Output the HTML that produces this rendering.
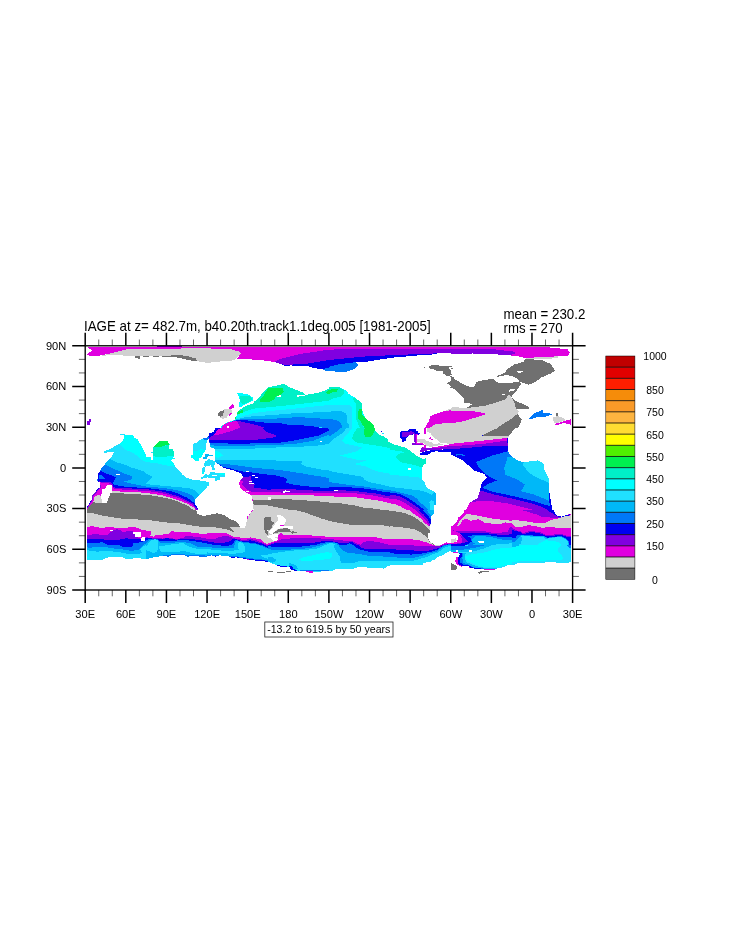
<!DOCTYPE html>
<html><head><meta charset="utf-8"><title>IAGE at z= 482.7m</title>
<style>
html,body{margin:0;padding:0;background:#fff;}
body{width:733px;height:945px;overflow:hidden;position:relative;font-family:"Liberation Sans",sans-serif;}
svg{display:block}
text{font-family:"Liberation Sans",sans-serif;fill:#000}
</style></head><body>
<svg width="733" height="945" viewBox="0 0 733 945">
<rect width="733" height="945" fill="#fff"/>
<svg x="85" y="346" width="122" height="82" viewBox="0 0 733 492.66" preserveAspectRatio="none" shape-rendering="crispEdges">
<polygon fill="#e000e0" points="12,5 733,5 733,14 430,16 250,20 190,36 100,56 30,63 12,50 45,25 20,12"/>
<polygon fill="#d0d0d0" points="190,36 250,20 430,16 733,14 733,102 650,86 560,63 300,63 200,55 100,58"/>
<polygon fill="#707070" points="515,56 565,54 620,62 668,76 672,90 640,88 600,80 560,70 520,64"/>
<polygon fill="#707070" points="300,62 330,62 330,76 305,74"/>
<polygon fill="#707070" points="350,60 382,60 382,66 350,66"/>
<polygon fill="#707070" points="410,60 442,60 442,66 410,66"/>
<polygon fill="#707070" points="465,58 520,58 520,65 465,65"/>
<polygon fill="#8000e0" points="430,0 580,0 580,7 430,7"/>
<polygon fill="#8000e0" points="5,452 25,452 25,440 37,440 37,458 30,458 30,475 5,475"/>
</svg>
<svg x="85" y="428" width="122" height="82" viewBox="0 0 733 492.66" preserveAspectRatio="none" shape-rendering="crispEdges">
<polygon fill="#20e0ff" points="0,493 7,492 25,462 45,427 45,407 65,387 77,370 90,362 92,327 77,317 77,272 92,257 102,235 117,220 135,200 150,185 165,165 170,150 180,145 165,142 115,150 115,140 140,130 165,120 190,102 210,97 222,82 237,60 232,42 210,40 210,36 240,36 245,42 287,42 295,57 317,67 325,87 340,107 350,130 360,150 366,165 366,172 396,175 396,192 409,192 409,150 396,147 409,142 409,117 431,95 449,80 499,80 504,95 516,98 504,102 504,125 531,127 534,165 531,180 546,182 516,192 531,212 546,237 566,257 586,280 611,300 646,310 691,315 733,322 733,357 706,382 686,402 671,417 661,432 659,452 671,472 681,493"/>
<polygon fill="#00ffff" points="210,97 222,82 237,60 232,42 287,42 295,57 317,67 325,87 340,107 350,130 360,150 366,172 396,175 396,192 409,192 409,117 431,95 449,80 499,80 504,95 516,98 504,102 504,125 531,127 534,165 531,180 546,182 516,192 531,212 536,232 491,225 431,212 366,205 340,190 310,165 280,145 250,135 225,115"/>
<polygon fill="#00f0c8" points="409,117 504,102 504,125 531,127 534,165 491,172 431,177 409,167"/>
<polygon fill="#00f050" points="409,117 431,95 449,80 499,80 504,95 516,98 486,102 466,110 431,117"/>
<polygon fill="#00b8f8" points="150,185 170,197 200,210 240,220 270,235 320,250 350,260 366,272 406,292 376,322 366,337 466,347 556,355 626,362 666,377 686,402 671,417 661,432 659,452 671,472 681,493 0,493 77,300 77,272 92,257 102,235 117,220 135,200"/>
<polygon fill="#0078f8" points="117,220 145,230 170,245 210,260 240,275 280,290 287,300 270,312 235,322 270,332 320,342 366,352 416,355 466,360 516,367 566,377 616,392 646,407 661,432 659,452 671,472 681,493 0,493 77,300 77,272 92,257 102,235"/>
<polygon fill="#0000f0" points="77,272 92,257 125,272 185,295 175,317 167,337 180,342 225,351 300,357 366,360 466,372 516,380 566,397 616,420 646,442 659,452 671,472 681,493 0,493 77,317"/>
<polygon fill="#0078f8" points="85,285 100,282 120,305 85,305"/>
<polygon fill="#8000e0" points="77,317 92,322 150,325 167,337 172,357 225,362 300,364 366,367 466,382 566,412 616,437 650,455 659,470 671,480 681,493 0,493 7,488 25,458 45,424 45,404 65,384 77,367 90,360 92,327"/>
<polygon fill="#e000e0" points="92,327 125,330 150,335 165,350 172,365 225,370 300,375 366,377 466,392 566,422 616,445 650,465 660,480 670,493 0,493 12,488 30,458 50,424 50,407 70,387 82,370 95,362"/>
<polygon fill="#d0d0d0" points="55,417 75,402 90,405 95,412 105,452 65,450 50,442"/>
<polygon fill="#d0d0d0" points="160,380 225,382 300,385 366,390 466,405 566,435 616,455 656,480 666,493 150,493 150,392"/>
<polygon fill="#707070" points="7,493 50,445 65,450 105,452 130,450 137,432 147,412 150,392 170,390 300,397 366,402 416,407 466,417 516,427 566,445 616,467 651,493"/>
<polygon fill="#ffffff" points="137,342 160,345 165,387 150,392 147,412 137,432 130,450 105,452 95,412 100,392 102,370 120,365 130,347"/>
<polygon fill="#ffffff" points="187,275 210,275 210,281 187,281"/>
<polygon fill="#ffffff" points="0,482 7,485 25,455 43,424 43,404 63,384 75,367 88,359 90,329 75,319 75,272 90,255 100,235 60,180 0,180"/>
<polygon fill="#20e0ff" points="650,96 672,88 689,73 709,62 733,57 733,90 728,90 724,135 709,151 703,174 689,180 683,196 662,196 650,188 650,176 638,180 638,164 650,162"/>
<polygon fill="#00ffff" points="650,135 672,140 700,125 724,135 709,151 703,174 689,180 683,196 662,196 650,188 650,176 638,180 638,164 650,162"/>
<polygon fill="#0078f8" points="709,63 733,57 733,73 715,72"/>
<polygon fill="#00b8f8" points="709,176 719,172 724,158 733,158 733,188 720,188 709,182"/>
<polygon fill="#20e0ff" points="724,201 733,195 733,228 720,233 711,217"/>
<polygon fill="#20e0ff" points="703,240 720,235 720,262 703,279"/>
<polygon fill="#00ffff" points="703,262 712,262 712,279 703,279"/>
<polygon fill="#20e0ff" points="695,299 724,279 733,279 733,300 695,305"/>
</svg>
<svg x="85" y="510" width="122" height="82" viewBox="0 0 733 492.66" preserveAspectRatio="none" shape-rendering="crispEdges">
<svg x="0.0" y="0.0" width="366.5" height="300.4" viewBox="0 0 733 600.8" preserveAspectRatio="none">
<polygon fill="#707070" points="0,0 733,0 733,601 0,601"/>
<polygon fill="#d0d0d0" points="0,30 100,40 200,65 350,90 450,105 600,110 733,125 733,601 0,601"/>
<polygon fill="#e000e0" points="0,205 90,195 200,215 300,205 400,215 450,215 600,205 680,235 733,245 733,601 0,601"/>
<polygon fill="#8000e0" points="0,300 120,292 270,300 300,275 340,245 380,232 420,240 455,262 520,255 575,258 600,290 640,330 670,345 733,335 733,601 0,601"/>
<polygon fill="#0000f0" points="0,345 120,345 230,355 420,355 500,340 560,350 650,355 700,345 733,338 733,601 0,601"/>
<polygon fill="#0078f8" points="0,395 60,400 130,400 210,385 270,415 400,415 450,440 570,440 580,400 650,390 733,372 733,601 0,601"/>
<polygon fill="#00b8f8" points="0,445 60,455 150,440 200,450 260,440 300,460 400,465 480,480 560,490 650,480 680,440 733,400 733,601 0,601"/>
<polygon fill="#20e0ff" points="0,475 60,490 150,500 250,490 400,505 500,525 600,530 680,520 733,500 733,601 0,601"/>
<polygon fill="#20e0ff" points="660,475 690,440 733,420 733,505 690,520"/>
<polygon fill="#ffffff" points="0,601 200,601 250,575 300,565 450,570 500,590 600,580 733,585 733,601"/>
<polygon fill="#00ffff" points="0,565 50,565 50,580 0,580"/>
<polygon fill="#ffffff" points="300,238 340,238 340,250 300,250"/>
<polygon fill="#ffffff" points="580,265 670,265 670,320 600,320 600,290 580,290"/>
<polygon fill="#ffffff" points="680,330 720,325 720,370 675,370"/>
</svg>
<svg x="366.5" y="0.0" width="366.5" height="300.4" viewBox="0 0 733 600.8" preserveAspectRatio="none">
<polygon fill="#707070" points="0,0 733,0 733,601 0,601"/>
<polygon fill="#ffffff" points="600,0 733,0 733,65 680,70 620,50"/>
<polygon fill="#d0d0d0" points="0,115 100,130 250,150 400,160 550,185 650,200 733,210 733,601 0,601"/>
<polygon fill="#e000e0" points="0,255 55,255 60,290 40,310 90,320 130,295 200,295 270,290 300,255 350,260 400,270 500,265 600,280 733,290 733,601 0,601"/>
<polygon fill="#8000e0" points="0,328 100,338 200,343 250,330 370,350 450,335 480,315 600,320 733,345 733,601 0,601"/>
<polygon fill="#0000f0" points="0,335 100,345 200,350 250,338 370,357 450,345 600,355 733,375 733,601 0,601"/>
<polygon fill="#0078f8" points="0,370 30,350 150,355 170,375 300,375 450,358 600,378 733,402 733,601 0,601"/>
<polygon fill="#00b8f8" points="0,400 40,365 60,360 110,352 150,370 170,395 300,395 400,385 450,385 550,405 620,440 733,445 733,601 0,601"/>
<polygon fill="#20e0ff" points="0,440 30,400 60,362 110,352 150,372 150,440 200,430 280,420 350,405 450,400 500,430 560,455 650,470 733,470 733,601 0,601"/>
<polygon fill="#00b8f8" points="0,480 100,520 130,500 150,445 180,500 250,505 350,510 450,492 520,510 600,525 733,530 733,601 0,601"/>
<polygon fill="#0078f8" points="200,542 300,535 450,528 500,545 600,540 733,548 733,601 200,601"/>
<polygon fill="#ffffff" points="0,590 50,580 100,565 200,555 270,560 300,545 450,535 500,560 600,550 680,570 733,560 733,601 0,601"/>
</svg>
</svg>
<svg x="207" y="346" width="122" height="82" viewBox="0 0 733 492.66" preserveAspectRatio="none" shape-rendering="crispEdges">
<polygon fill="#e000e0" points="0,5 733,5 733,22 560,48 450,75 400,96 350,88 260,80 180,75 205,45 195,35 150,20 0,14"/>
<polygon fill="#d0d0d0" points="0,14 150,20 195,35 205,45 180,72 160,86 50,96 0,102"/>
<polygon fill="#8000e0" points="400,96 450,75 560,48 733,22 733,84 650,98 600,106 470,114 445,108"/>
<polygon fill="#0000f0" points="445,108 470,114 600,106 650,98 733,84 733,150 700,142 640,132 600,119 500,117 470,121"/>
<polygon fill="#0078f8" points="690,138 733,132 733,150 710,148"/>
<polygon fill="#00ffff" points="180,282 210,284 240,289 260,297 277,312 277,327 250,342 220,354 210,364 192,364 197,324 187,294"/>
<polygon fill="#00f0c8" points="200,299 250,299 275,319 250,339 215,349 200,334"/>
<polygon fill="#00f0c8" points="366,247 416,239 461,227 496,247 536,264 576,279 591,292 606,292 666,282 706,269 733,257 733,493 82,493 84,486 100,471 130,456 167,445 177,424 182,400 195,384 215,371 250,354 287,341 280,335 295,326 325,294"/>
<polygon fill="#ffffff" points="541,296 591,292 591,302 541,304"/>
<polygon fill="#ffffff" points="418,294 443,294 443,304 418,304"/>
<polygon fill="#00f050" points="366,254 456,252 461,274 441,297 416,299 401,324 366,339 320,334 315,324 340,299"/>
<polygon fill="#00f050" points="185,392 215,384 215,399 182,412"/>
<polygon fill="#00f050" points="168,428 176,426 175,445 167,445"/>
<polygon fill="#00f050" points="716,279 733,264 733,284 721,294"/>
<polygon fill="#00ffff" points="733,329 551,349 366,369 300,372 260,382 220,397 185,412 177,424 167,445 130,456 100,471 84,486 82,493 733,493"/>
<polygon fill="#20e0ff" points="733,354 551,374 366,392 325,397 275,404 225,419 177,434 170,445 130,462 733,493"/>
<polygon fill="#00b8f8" points="733,397 551,402 366,417 300,419 225,429 172,442 165,448 733,493"/>
<polygon fill="#0078f8" points="733,439 551,427 366,439 300,437 225,439 170,445 160,450 733,493"/>
<polygon fill="#0000f0" points="733,493 691,493 616,479 491,474 441,464 366,462 275,452 225,444 167,448 130,460 100,480 95,493"/>
<polygon fill="#8000e0" points="350,493 325,484 275,469 225,459 190,449 150,453 120,466 95,482 90,493"/>
<polygon fill="#e000e0" points="200,493 192,474 185,454 165,452 125,459 100,474 85,493"/>
<polygon fill="#ffffff" points="120,482 130,482 130,493 120,493"/>
<polygon fill="#d0d0d0" points="100,379 145,377 150,394 145,409 120,419 117,432 95,437 80,434 80,424 95,419"/>
<polygon fill="#707070" points="67,404 80,389 105,387 95,419 80,424 67,417"/>
<polygon fill="#e000e0" points="132,367 150,349 160,354 162,369 150,377 132,377"/>
<polygon fill="#e000e0" points="127,414 145,402 150,409 137,419"/>
</svg>
<svg x="207" y="428" width="122" height="82" viewBox="0 0 733 492.66" preserveAspectRatio="none" shape-rendering="crispEdges">
<polygon fill="#20e0ff" points="50,0 733,0 733,493 285,493 277,482 275,432 265,402 235,387 205,367 192,337 200,312 220,295 210,282 200,270 150,252 100,240 75,222 50,205 50,190 47,150 45,125 22,115 12,80 10,55 20,32 42,22"/>
<polygon fill="#00b8f8" points="10,55 12,80 22,115 50,125 200,127 366,120 451,115 566,112 656,107 706,100 733,95 733,0 50,0 42,22 20,32"/>
<polygon fill="#0078f8" points="12,80 20,100 50,107 200,107 300,105 366,102 451,100 531,95 591,85 641,75 691,55 733,40 733,0 50,0 42,22 20,32 10,55"/>
<polygon fill="#0000f0" points="12,70 15,87 75,92 200,95 300,92 366,90 451,87 516,77 591,62 666,47 716,25 733,15 733,0 50,0 42,22 20,32 10,55"/>
<polygon fill="#0078f8" points="720,0 733,0 733,6"/>
<polygon fill="#8000e0" points="195,0 335,0 360,25 405,40 420,50 385,60 366,62 300,70 200,75 50,72 12,70 15,60 35,45 55,42 90,35 150,17"/>
<polygon fill="#e000e0" points="65,12 80,0 195,0 150,17 90,35 55,42 35,45"/>
<polygon fill="#00ffff" points="50,137 70,142 95,165 70,180 50,175"/>
<polygon fill="#00b8f8" points="50,190 65,192 150,192 250,195 366,190 401,195 516,197 571,200 566,215 591,230 641,240 691,250 733,255 733,493 285,493 277,482 275,432 265,402 235,387 205,367 192,337 200,312 220,295 210,282 200,270 150,252 100,240 75,222 50,205"/>
<polygon fill="#0078f8" points="50,205 75,215 150,220 250,235 366,247 416,250 491,260 566,272 641,285 691,292 733,302 733,493 285,493 277,482 275,432 265,402 235,387 205,367 192,337 200,312 220,295 210,282 200,270 150,252 100,240 75,222"/>
<polygon fill="#0000f0" points="75,222 100,235 150,245 200,260 250,265 366,280 406,282 431,290 476,300 481,317 469,325 501,337 566,347 616,352 666,357 733,360 733,493 285,493 277,482 275,432 265,402 235,387 205,367 192,337 200,312 220,295 210,282 200,270 150,252 100,240"/>
<polygon fill="#8000e0" points="220,295 250,297 260,282 265,312 272,315 270,332 287,337 280,357 366,370 501,367 566,372 626,375 733,380 733,493 285,493 277,482 275,432 265,402 235,387 205,367 192,337 200,312"/>
<polygon fill="#e000e0" points="200,312 220,325 205,337 210,342 235,367 265,382 366,385 516,390 616,392 733,392 733,493 285,493 277,482 275,432 265,402 235,387 205,367 192,337"/>
<polygon fill="#d0d0d0" points="265,402 366,400 516,402 606,405 733,407 733,493 285,493 277,482 275,432"/>
<polygon fill="#707070" points="277,432 366,430 466,427 551,432 666,440 733,447 733,493 506,493 416,475 366,465 285,465 277,450"/>
<polygon fill="#e000e0" points="265,432 275,427 275,442"/>
<polygon fill="#ffffff" points="235,257 252,257 252,263 235,263"/>
<polygon fill="#ffffff" points="272,285 287,285 287,290 272,290"/>
<polygon fill="#ffffff" points="290,293 306,293 306,303 290,303"/>
<polygon fill="#ffffff" points="252,320 272,320 272,325 252,325"/>
<polygon fill="#ffffff" points="252,330 285,330 285,337 252,337"/>
<polygon fill="#ffffff" points="235,377 252,377 252,385 235,385"/>
<polygon fill="#ffffff" points="456,380 470,375 490,377 503,384 480,384 470,388 456,388"/>
<polygon fill="#ffffff" points="366,415 383,415 383,430 366,430"/>
<polygon fill="#ffffff" points="679,77 691,77 691,84 679,84"/>
<polygon fill="#0078f8" points="0,57 11,53 13,65 0,73"/>
<polygon fill="#0000f0" points="8,50 13,32 32,30 14,60"/>
<polygon fill="#00b8f8" points="0,158 9,158 11,164 36,164 36,168 9,170 3,176 0,185"/>
<polygon fill="#20e0ff" points="0,195 11,188 24,192 48,200 48,217 40,225 48,250 32,250 24,225 0,228"/>
<polygon fill="#20e0ff" points="0,283 11,279 23,263 72,271 108,271 108,294 81,296 81,312 48,317 48,300 11,300 0,296"/>
<polygon fill="#00ffff" points="72,271 108,271 108,283 72,283"/>
<polygon fill="#ffffff" points="30,285 60,285 60,290 30,290"/>
<polygon fill="#20e0ff" points="0,325 12,322 12,350 0,352"/>
</svg>
<svg x="207" y="510" width="122" height="82" viewBox="0 0 733 492.66" preserveAspectRatio="none" shape-rendering="crispEdges">
<svg x="0.0" y="0.0" width="366.5" height="360.5" viewBox="0 0 733 721.0" preserveAspectRatio="none">
<polygon fill="#d0d0d0" points="0,0 733,0 733,721 0,721"/>
<polygon fill="#ffffff" points="0,0 560,0 530,30 490,80 480,130 460,210 395,215 385,170 350,135 290,115 210,65 130,40 80,45 0,65"/>
<polygon fill="#707070" points="0,65 80,45 130,40 210,65 290,115 350,135 385,170 395,210 330,200 280,210 330,260 310,270 270,240 200,225 100,210 0,200"/>
<polygon fill="#707070" points="680,110 700,90 733,85 733,300 700,280 680,200"/>
<polygon fill="#ffffff" points="720,240 733,235 733,255"/>
<polygon fill="#ffffff" points="720,315 733,310 733,330"/>
<polygon fill="#e000e0" points="0,280 100,280 230,280 330,325 450,335 520,330 600,345 650,350 700,400 733,410 733,721 0,721"/>
<polygon fill="#8000e0" points="0,345 100,345 150,322 230,312 290,325 330,342 450,360 520,348 600,365 680,400 733,425 733,721 0,721"/>
<polygon fill="#0000f0" points="0,375 100,395 230,390 280,370 320,342 340,350 430,375 520,365 600,385 680,410 733,440 733,721 0,721"/>
<polygon fill="#0078f8" points="0,405 100,420 200,430 300,425 325,385 345,360 450,385 540,395 600,405 680,430 733,455 733,721 0,721"/>
<polygon fill="#00b8f8" points="0,445 100,455 200,460 320,455 335,400 350,370 450,395 540,405 600,415 680,440 733,465 733,721 0,721"/>
<polygon fill="#20e0ff" points="0,470 100,480 200,490 300,490 380,480 370,400 400,385 440,410 455,440 460,500 400,520 300,525 200,520 100,515 0,510"/>
<polygon fill="#20e0ff" points="640,545 733,535 733,585 700,580"/>
<polygon fill="#0078f8" points="0,540 100,545 200,548 300,555 400,560 500,575 600,590 733,600 733,721 0,721"/>
<polygon fill="#0000f0" points="0,548 100,553 200,556 300,565 400,572 480,585 600,600 733,610 733,721 0,721"/>
<polygon fill="#ffffff" points="0,555 60,545 100,560 150,545 250,555 300,575 350,570 470,590 600,610 733,622 733,721 0,721"/>
<polygon fill="#e000e0" points="470,590 600,606 490,604"/>
<polygon fill="#e000e0" points="480,70 492,70 492,105 480,105"/>
<polygon fill="#e000e0" points="505,45 517,45 517,60 505,60"/>
<polygon fill="#e000e0" points="530,10 545,0 550,10 535,25"/>
</svg>
<svg x="366.5" y="0.0" width="366.5" height="300.4" viewBox="0 0 733 600.8" preserveAspectRatio="none">
<polygon fill="#d0d0d0" points="0,0 733,0 733,601 0,601"/>
<polygon fill="#707070" points="320,0 733,0 733,130 650,105 550,70 450,30 380,15"/>
<polygon fill="#707070" points="0,85 35,85 40,130 80,160 50,190 40,230 0,240"/>
<polygon fill="#ffffff" points="110,65 150,60 185,85 215,110 215,140 200,170 190,195 300,195 300,225 260,230 230,215 150,220 110,235 60,275 50,290 20,290 15,255 45,230 60,200 90,160 120,130 115,90"/>
<polygon fill="#e000e0" points="145,180 190,180 190,192 145,192"/>
<polygon fill="#707070" points="110,240 150,225 230,218 260,235 275,260 310,255 345,270 290,285 270,265 170,262 120,270 60,285"/>
<polygon fill="#e000e0" points="0,400 60,385 110,365 120,330 130,285 160,280 180,300 300,300 500,305 660,315 733,325 733,601 0,601"/>
<polygon fill="#ffffff" points="0,310 40,300 60,290 115,290 120,320 80,330 120,350 100,370 50,365 40,340 0,335"/>
<polygon fill="#8000e0" points="0,420 20,410 100,380 180,345 350,340 450,335 600,340 733,350 733,601 0,601"/>
<polygon fill="#0000f0" points="0,430 60,405 100,395 300,395 550,395 620,380 733,372 733,601 0,601"/>
<polygon fill="#0078f8" points="0,445 80,420 100,440 280,440 550,430 640,395 733,385 733,601 0,601"/>
<polygon fill="#00b8f8" points="0,460 100,455 300,455 550,445 600,440 680,405 733,395 733,601 0,601"/>
<polygon fill="#20e0ff" points="0,520 100,505 250,490 400,480 550,470 650,430 733,410 733,601 0,601"/>
<polygon fill="#00ffff" points="350,601 420,545 520,520 650,505 733,500 733,601"/>
</svg>
<svg x="366.5" y="210.3" width="366.5" height="300.4" viewBox="0 0 733 600.8" preserveAspectRatio="none">
<polygon fill="#20e0ff" points="0,0 733,0 733,601 0,601"/>
<polygon fill="#00b8f8" points="0,0 690,0 600,40 550,50 400,60 250,70 0,110"/>
<polygon fill="#0078f8" points="0,0 640,0 560,25 400,50 100,60 0,50"/>
<polygon fill="#0000f0" points="0,0 550,0 400,20 100,25 0,15"/>
<polygon fill="#00ffff" points="360,180 420,150 550,120 650,95 733,85 733,170 600,180 450,195"/>
<polygon fill="#00b8f8" points="0,150 60,150 100,180 60,215 0,195"/>
<polygon fill="#00b8f8" points="250,220 300,225 340,250 360,290 300,300 290,260 250,245"/>
<polygon fill="#0078f8" points="380,295 733,295 733,315 380,315"/>
<polygon fill="#0000f0" points="100,235 160,250 250,262 265,245 290,252 305,290 350,298 350,312 280,305 262,275 160,268 100,248"/>
<polygon fill="#ffffff" points="0,200 60,225 110,245 160,265 260,270 280,300 330,310 450,315 520,325 600,320 733,315 733,601 0,601"/>
<polygon fill="#e000e0" points="460,318 545,318 545,335 500,335"/>
<polygon fill="#707070" points="0,318 60,318 60,330 0,330"/>
<polygon fill="#707070" points="110,325 170,322 270,315 275,328 170,332 110,332"/>
</svg>
</svg>
<svg x="329" y="346" width="122" height="82" viewBox="0 0 733 492.66" preserveAspectRatio="none" shape-rendering="crispEdges">
<polygon fill="#e000e0" points="0,5 733,5 733,17 300,17 100,19 0,22"/>
<polygon fill="#8000e0" points="0,22 100,19 300,17 733,17 733,44 650,44 560,48 400,54 200,64 0,84"/>
<polygon fill="#0000f0" points="0,84 200,64 400,54 560,48 650,44 640,50 560,54 500,60 400,68 300,82 215,96 160,98 60,110 0,125"/>
<polygon fill="#0078f8" points="0,125 60,110 160,97 175,115 150,140 90,158 0,150"/>
<polygon fill="#d0d0d0" points="700,388 733,376 733,493 590,493"/>
<polygon fill="#e000e0" points="575,493 600,450 610,420 680,395 733,385 733,460 640,470 600,493"/>
<polygon fill="#00ffff" points="5,247 65,247 100,267 120,289 160,312 197,344 197,379 210,414 222,434 270,477 270,493 0,493 0,247"/>
<polygon fill="#00f0c8" points="0,247 65,247 90,269 87,292 70,304 30,314 0,327"/>
<polygon fill="#00f050" points="0,264 20,259 52,259 50,274 20,279 0,287"/>
<polygon fill="#00f0c8" points="140,317 160,312 197,344 197,379 180,379 175,404 175,434 190,454 210,493 185,493 165,444 160,404 165,354 150,329"/>
<polygon fill="#00f050" points="180,379 197,379 197,414 222,434 270,477 270,493 215,493 190,454 175,434 175,404"/>
<polygon fill="#20e0ff" points="0,354 122,354 137,369 137,493 0,493"/>
<polygon fill="#00b8f8" points="0,397 20,390 75,392 100,404 107,419 107,454 120,474 122,493 0,493"/>
<polygon fill="#0078f8" points="0,439 40,444 65,457 77,477 75,493 0,493"/>
<svg x="546.7" y="84.1" width="186.2" height="300.4" viewBox="0.0 0.0 454.5 733.0" preserveAspectRatio="none">
<polygon fill="#707070" points="120,105 180,75 260,75 320,95 360,90 455,88 440,105 400,115 440,135 455,165 465,215 440,230 480,255 495,250 500,280 540,285 520,300 580,310 620,345 680,380 733,400 733,625 660,625 640,560 590,520 560,470 500,470 470,420 440,410 455,390 410,350 380,355 420,325 470,300 470,265 430,240 380,225 340,195 330,165 240,155 200,135 150,125"/>
<polygon fill="#707070" points="58,100 72,100 72,115 58,115"/>
</svg>
</svg>
<svg x="329" y="428" width="122" height="82" viewBox="0 0 733 492.66" preserveAspectRatio="none" shape-rendering="crispEdges">
<svg x="0.0" y="0.0" width="366.5" height="300.4" viewBox="0 0 733 600.8" preserveAspectRatio="none">
<polygon fill="#20e0ff" points="0,0 733,0 733,601 0,601"/>
<polygon fill="#00b8f8" points="140,0 215,0 150,70 60,130 0,190 0,0"/>
<polygon fill="#0078f8" points="0,0 140,0 70,60 0,105"/>
<polygon fill="#00ffff" points="275,0 240,50 190,110 155,150 200,190 330,215 395,235 340,280 220,310 130,330 200,350 330,380 470,395 400,420 300,435 350,460 450,480 520,520 650,550 733,560 733,0"/>
<polygon fill="#00f0c8" points="340,0 300,60 275,130 320,170 450,195 600,215 733,240 733,0"/>
<polygon fill="#00f050" points="430,0 550,0 550,30 520,90 480,115 430,100 420,50"/>
<polygon fill="#ffffff" points="550,0 560,40 600,80 660,100 700,130 715,165 733,170 733,0"/>
<polygon fill="#00b8f8" points="0,515 100,540 250,560 350,575 420,601 0,601"/>
<polygon fill="#0000f0" points="625,35 640,35 640,48 625,48"/>
<polygon fill="#20e0ff" points="640,60 660,60 660,70 640,70"/>
</svg>
<svg x="366.5" y="0.0" width="366.5" height="300.4" viewBox="0 0 733 600.8" preserveAspectRatio="none">
<polygon fill="#00ffff" points="0,175 50,200 110,215 180,235 240,270 290,310 330,340 370,360 395,370 430,365 430,420 400,450 385,480 385,601 0,601"/>
<polygon fill="#00f0c8" points="0,175 50,200 110,215 180,235 240,270 290,310 330,340 370,360 395,370 430,365 430,420 400,450 385,480 300,450 200,420 100,380 65,345 110,310 180,290 120,275 0,265"/>
<polygon fill="#20e0ff" points="0,545 150,580 250,601 0,601"/>
<polygon fill="#ffffff" points="215,480 250,480 250,500 215,500"/>
<polygon fill="#0000f0" points="120,50 150,35 220,30 240,12 310,12 315,35 335,40 340,60 385,75 330,80 300,75 240,85 190,125 185,160 145,165 145,130 120,125"/>
<polygon fill="#8000e0" points="150,50 230,45 250,35 290,50 300,75 240,80 190,110 150,105"/>
<polygon fill="#d0d0d0" points="440,0 733,0 733,190 600,180 580,150 545,130 500,80 480,55 440,50"/>
<polygon fill="#d0d0d0" points="330,130 420,135 440,160 500,165 520,190 600,185 650,195 560,215 500,225 430,220 410,180 330,170"/>
<polygon fill="#8000e0" points="290,75 310,75 320,180 400,185 405,200 290,210 265,205 270,185 295,180"/>
<polygon fill="#e000e0" points="310,75 430,75 430,0 410,0 410,65 320,80 320,180 400,185 410,210 430,210 430,240 500,235 560,225 650,210 733,195 733,215 650,230 560,245 490,255 430,265 400,250 405,200 330,195 310,190"/>
<polygon fill="#e000e0" points="460,120 490,110 500,130 525,135 510,150 490,135 465,130"/>
<polygon fill="#8000e0" points="385,230 430,242 500,242 600,235 733,215 733,250 600,260 500,262 440,270 400,285 370,295 360,280"/>
<polygon fill="#0000f0" points="350,295 370,300 440,275 500,268 600,262 733,250 733,285 660,290 600,295 570,280 500,285 490,300 450,320 360,320"/>
</svg>
<svg x="0.0" y="192.3" width="366.5" height="300.4" viewBox="0 0 733 600.8" preserveAspectRatio="none">
<polygon fill="#20e0ff" points="0,0 733,0 733,601 0,601"/>
<polygon fill="#00ffff" points="300,50 470,0 733,0 733,165 600,140 500,110 450,80"/>
<polygon fill="#00b8f8" points="0,130 100,150 250,175 400,200 430,240 500,270 600,290 733,320 733,601 0,601"/>
<polygon fill="#0078f8" points="0,265 100,280 250,300 400,315 550,340 650,355 733,365 733,601 0,601"/>
<polygon fill="#0000f0" points="0,320 100,325 250,328 400,340 550,360 650,380 733,390 733,601 0,601"/>
<polygon fill="#8000e0" points="0,375 100,365 300,368 400,385 550,400 650,420 733,440 733,601 0,601"/>
<polygon fill="#e000e0" points="0,400 100,395 300,398 400,410 550,430 650,450 733,465 733,601 0,601"/>
<polygon fill="#d0d0d0" points="0,430 100,445 300,445 400,460 550,480 650,500 733,520 733,601 0,601"/>
<polygon fill="#707070" points="0,515 140,520 300,545 400,570 550,585 660,601 0,601"/>
<polygon fill="#ffffff" points="60,360 110,360 110,372 60,372"/>
</svg>
<svg x="366.5" y="192.3" width="366.5" height="300.4" viewBox="0 0 733 600.8" preserveAspectRatio="none">
<polygon fill="#00ffff" points="0,0 733,0 733,601 0,601"/>
<polygon fill="#00f0c8" points="100,0 430,0 430,40 400,60 385,90 300,60 200,40 120,25"/>
<polygon fill="#20e0ff" points="0,175 100,185 250,200 340,205 385,230 733,230 733,601 0,601"/>
<polygon fill="#00b8f8" points="0,325 100,335 250,352 350,365 430,385 480,410 500,420 530,395 530,375 733,375 733,601 0,601"/>
<polygon fill="#0078f8" points="0,365 80,380 200,410 280,430 330,470 350,500 400,540 440,580 460,601 0,601"/>
<polygon fill="#0000f0" points="0,395 80,400 150,420 220,460 280,500 350,550 400,590 420,601 0,601"/>
<polygon fill="#8000e0" points="0,425 50,420 130,440 200,480 260,520 330,570 370,601 0,601"/>
<polygon fill="#e000e0" points="0,470 60,465 130,490 200,530 270,575 310,601 0,601"/>
<polygon fill="#d0d0d0" points="0,520 60,530 130,560 200,601 0,601"/>
<polygon fill="#20e0ff" points="470,510 500,480 525,500 525,601 480,601 485,550"/>
<polygon fill="#ffffff" points="430,0 430,40 400,60 385,90 385,230 400,250 420,270 430,320 480,355 530,375 550,400 550,540 530,545 530,601 733,601 733,0"/>
<polygon fill="#ffffff" points="215,95 250,95 250,120 215,120"/>
</svg>
</svg>
<svg x="329" y="510" width="122" height="82" viewBox="0 0 733 492.66" preserveAspectRatio="none" shape-rendering="crispEdges">
<svg x="0.0" y="0.0" width="366.5" height="300.4" viewBox="0 0 733 600.8" preserveAspectRatio="none">
<polygon fill="#707070" points="0,0 733,0 733,601 0,601"/>
<polygon fill="#d0d0d0" points="0,130 100,150 250,175 400,185 550,180 650,185 733,200 733,601 0,601"/>
<polygon fill="#d0d0d0" points="710,0 733,0 733,10"/>
<polygon fill="#e000e0" points="0,325 150,330 250,325 400,325 550,325 650,345 733,350 733,601 0,601"/>
<polygon fill="#8000e0" points="0,345 60,355 150,365 200,370 280,375 330,400 380,420 420,380 500,375 600,385 680,410 733,420 733,601 0,601"/>
<polygon fill="#0000f0" points="0,370 100,390 200,395 280,385 330,420 380,445 430,462 550,467 733,467 733,601 0,601"/>
<polygon fill="#0078f8" points="0,390 50,385 100,400 130,420 200,420 240,400 290,420 320,460 400,490 520,510 733,512 733,601 0,601"/>
<polygon fill="#00b8f8" points="0,392 100,402 100,420 130,450 200,500 280,520 380,550 500,562 733,562 733,601 0,601"/>
<polygon fill="#20e0ff" points="0,395 30,395 70,410 90,440 60,470 100,510 130,560 150,601 0,601"/>
<polygon fill="#00ffff" points="0,520 30,525 40,560 20,580 0,585"/>
</svg>
<svg x="366.5" y="0.0" width="366.5" height="300.4" viewBox="0 0 733 600.8" preserveAspectRatio="none">
<polygon fill="#d0d0d0" points="0,0 733,0 733,601 0,601"/>
<polygon fill="#707070" points="0,12 100,20 200,45 300,90 380,150 440,210 480,240 478,270 455,285 455,345 420,310 370,270 300,235 200,215 100,205 0,195"/>
<polygon fill="#e000e0" points="230,0 300,0 350,40 410,100 450,150 480,195 470,195 420,160 380,110 290,50"/>
<polygon fill="#8000e0" points="300,0 340,0 400,50 450,110 480,160 480,195 450,150 410,100 350,40"/>
<polygon fill="#0000f0" points="340,0 390,0 440,50 490,110 490,165 480,160 450,110 400,50"/>
<polygon fill="#0078f8" points="390,0 440,0 470,40 495,75 490,110 440,50"/>
<polygon fill="#00b8f8" points="440,0 525,0 525,50 495,75 470,40"/>
<polygon fill="#e000e0" points="0,345 100,345 250,350 350,365 440,390 500,415 550,430 600,430 640,405 680,385 700,400 733,395 733,601 0,601"/>
<polygon fill="#8000e0" points="0,420 100,420 200,425 270,435 350,435 450,440 520,445 580,440 620,425 660,412 733,402 733,601 0,601"/>
<polygon fill="#0000f0" points="0,470 100,475 200,490 300,495 400,495 500,490 560,475 600,450 640,422 733,405 733,601 0,601"/>
<polygon fill="#0078f8" points="0,510 100,520 200,535 300,540 400,535 500,520 570,495 610,460 660,422 733,408 733,601 0,601"/>
<polygon fill="#00b8f8" points="0,555 100,570 200,580 300,580 400,570 480,550 560,525 600,495 640,460 690,425 733,415 733,601 0,601"/>
<polygon fill="#20e0ff" points="320,601 400,590 500,570 560,545 620,500 660,465 733,430 733,601"/>
<polygon fill="#00ffff" points="620,601 680,540 733,500 733,601"/>
<polygon fill="#ffffff" points="525,0 733,0 733,395 700,400 680,385 640,405 600,430 550,430 520,410 480,375 455,345 455,285 478,270 480,240 480,195 490,165 490,110 495,75 525,50"/>
<polygon fill="#707070" points="455,345 480,375 520,410 550,425 545,430 515,415 475,380 450,350"/>
</svg>
<svg x="0.0" y="210.3" width="366.5" height="300.4" viewBox="0 0 733 600.8" preserveAspectRatio="none">
<polygon fill="#20e0ff" points="0,0 733,0 733,601 0,601"/>
<polygon fill="#00b8f8" points="60,0 733,0 733,195 500,190 360,195 300,215 140,215 135,150 100,95 70,50"/>
<polygon fill="#0078f8" points="110,0 733,0 733,140 500,135 380,110 300,100 210,90 150,50"/>
<polygon fill="#0000f0" points="300,0 733,0 733,90 520,90 440,70 370,55 320,30"/>
<polygon fill="#8000e0" points="350,0 733,0 733,45 430,45 390,30"/>
<polygon fill="#00ffff" points="0,95 35,100 35,140 0,170"/>
<polygon fill="#ffffff" points="0,310 40,310 80,290 300,285 350,265 450,265 460,275 640,275 660,285 700,255 733,250 733,601 0,601"/>
</svg>
<svg x="366.5" y="210.3" width="366.5" height="300.4" viewBox="0 0 733 600.8" preserveAspectRatio="none">
<polygon fill="#20e0ff" points="0,0 733,0 733,601 0,601"/>
<polygon fill="#00b8f8" points="0,0 733,0 733,10 700,15 660,30 620,55 580,90 520,110 450,140 350,170 280,190 100,195 0,190"/>
<polygon fill="#0078f8" points="0,0 680,0 640,20 600,50 560,80 480,100 400,125 300,150 200,155 80,150 0,145"/>
<polygon fill="#0000f0" points="0,0 650,0 610,25 580,55 520,75 450,90 350,110 250,115 100,105 0,100"/>
<polygon fill="#8000e0" points="0,0 640,0 600,30 560,45 450,70 320,70 200,55 80,55 0,45"/>
<polygon fill="#e000e0" points="270,0 620,0 600,10 540,15 430,15 300,10"/>
<polygon fill="#d0d0d0" points="545,0 600,0 600,10 545,10"/>
<polygon fill="#ffffff" points="0,240 180,245 200,240 390,240 400,220 430,210 490,200 500,185 550,170 570,145 600,135 650,115 660,95 700,85 733,65 733,601 0,601"/>
</svg>
</svg>
<svg x="451" y="346" width="122" height="82" viewBox="0 0 733 492.66" preserveAspectRatio="none" shape-rendering="crispEdges">
<polygon fill="#e000e0" points="0,5 560,5 700,20 715,40 700,60 640,62 440,72 400,60 330,55 390,40 250,20 0,18"/>
<polygon fill="#8000e0" points="0,17 250,19 390,35 380,50 330,55 240,48 130,45 0,48"/>
<polygon fill="#d0d0d0" points="440,72 640,62 650,68 600,76 470,82"/>
<svg x="0.0" y="24.0" width="492.7" height="468.6" viewBox="0 0 733 697.2" preserveAspectRatio="none">
<polygon fill="#707070" points="0,240 50,270 100,300 150,325 205,330 230,285 300,265 380,262 410,290 490,295 560,290 610,285 630,300 610,330 580,370 560,395 545,400 540,425 570,450 600,465 650,485 695,510 695,525 580,525 570,480 555,450 530,410 510,400 490,440 400,470 300,500 200,510 130,522 185,490 185,480 120,470 115,430 60,380 30,350 0,335"/>
<polygon fill="#ffffff" points="525,350 575,348 560,365 520,372"/>
<polygon fill="#ffffff" points="455,393 485,393 485,403 455,403"/>
<polygon fill="#d0d0d0" points="0,525 10,512 70,512 75,522 130,522 200,510 300,500 400,470 490,440 510,400 530,410 555,450 570,480 580,525 605,545 600,565 560,600 500,640 410,697 0,697"/>
<polygon fill="#e000e0" points="0,545 185,545 305,565 300,580 200,610 100,640 0,655"/>
<polygon fill="#707070" points="600,565 610,600 635,620 600,697 410,697 500,640 560,600"/>
</svg>
<polygon fill="#707070" points="276,179 302,170 326,158 336,140 376,113 437,93 447,80 540,82 600,108 612,128 625,150 600,165 540,190 510,215 480,228 465,232 430,222 410,213 400,197 376,184 336,175 302,180 279,185"/>
<polygon fill="#ffffff" points="395,150 432,148 428,158 402,162"/>
<polygon fill="#0078f8" points="470,435 500,405 550,385 555,400 580,400 610,410 570,425 520,425 480,440"/>
<polygon fill="#d0d0d0" points="610,430 640,420 680,435 690,445 650,460 620,462"/>
<polygon fill="#707070" points="630,405 645,405 645,420 630,420"/>
<polygon fill="#e000e0" points="620,470 700,445 725,440 725,475 680,462 640,475"/>
<svg x="0.0" y="84.1" width="114.2" height="300.4" viewBox="454.5 0.0 278.5 733.0" preserveAspectRatio="none">
<polygon fill="#707070" points="440,88 455,88 470,88 460,100 455,110 468,118 485,118 485,132 468,132 455,130"/>
<polygon fill="#707070" points="450,165 465,215 455,235 480,255 495,250 500,280 520,300 470,300 450,300"/>
</svg>
</svg>
<svg x="451" y="428" width="122" height="82" viewBox="0 0 733 492.66" preserveAspectRatio="none" shape-rendering="crispEdges">
<polygon fill="#0000f0" points="0,0 385,0 350,40 340,60 345,110 340,140 370,175 410,200 440,205 520,195 555,210 560,250 590,310 590,380 600,440 610,493 90,493 110,450 160,420 175,370 185,330 215,300 200,275 140,255 100,220 70,195 30,175 0,160"/>
<polygon fill="#d0d0d0" points="0,0 280,0 185,45 350,50 340,60 200,75 0,95"/>
<polygon fill="#707070" points="185,45 280,0 385,0 350,47"/>
<polygon fill="#e000e0" points="0,95 200,75 335,60 335,75 200,95 0,110"/>
<polygon fill="#8000e0" points="0,110 200,95 335,75 345,110 200,110 100,120 0,127"/>
<polygon fill="#0078f8" points="150,205 250,165 340,140 370,175 320,240 325,280 400,310 445,340 420,380 500,400 560,425 590,440 595,470 560,460 500,440 400,415 250,383 190,360 215,340 275,315 210,280 170,240"/>
<polygon fill="#00b8f8" points="340,175 370,175 410,200 440,205 430,220 470,270 520,300 590,330 590,440 560,425 500,400 420,380 445,340 400,310 325,280 320,240"/>
<polygon fill="#20e0ff" points="440,205 520,195 555,210 560,250 590,310 590,330 520,300 470,270 430,220"/>
<polygon fill="#0078f8" points="30,158 60,155 85,165 85,172 60,163 30,166"/>
<polygon fill="#8000e0" points="175,375 250,397 400,432 500,457 560,480 580,493 90,493 110,450 160,420"/>
<polygon fill="#e000e0" points="110,450 160,440 250,440 350,455 450,480 500,493 90,493"/>
</svg>
<svg x="451" y="510" width="122" height="82" viewBox="0 0 733 492.66" preserveAspectRatio="none" shape-rendering="crispEdges">
<svg x="0.0" y="0.0" width="366.5" height="300.4" viewBox="0 0 733 600.8" preserveAspectRatio="none">
<polygon fill="#e000e0" points="0,0 733,0 733,601 0,601"/>
<polygon fill="#ffffff" points="0,0 160,0 150,40 90,90 70,140 30,180 0,200"/>
<polygon fill="#d0d0d0" points="180,50 220,50 330,70 480,100 640,120 733,130 733,155 650,150 580,175 470,160 400,150 330,110 230,130 180,105 140,120 110,180 75,200 80,170 120,110"/>
<polygon fill="#8000e0" points="20,245 80,250 200,255 400,255 480,270 560,280 680,260 710,210 733,205 733,601 0,601 0,245"/>
<polygon fill="#0000f0" points="100,275 400,275 480,285 560,295 640,300 733,290 733,601 0,601 0,415 150,400 200,380 170,340 130,310"/>
<polygon fill="#0078f8" points="180,310 280,305 440,300 500,310 560,320 640,330 733,330 733,601 0,601 0,430 180,420 215,400 250,380 230,330"/>
<polygon fill="#00b8f8" points="300,310 440,320 500,330 560,345 640,360 733,365 733,601 0,601 0,450 150,440 250,420 300,400 250,385 260,340"/>
<polygon fill="#20e0ff" points="400,440 480,420 600,410 733,400 733,601 120,601 130,540 120,490 200,480 300,470"/>
<polygon fill="#00ffff" points="170,560 250,525 350,510 420,480 500,450 600,440 733,430 733,601 150,601"/>
<polygon fill="#e000e0" points="0,245 20,245 100,275 130,310 130,390 90,400 30,410 0,415"/>
<polygon fill="#8000e0" points="110,300 130,310 170,340 200,380 150,400 130,395 130,340"/>
<polygon fill="#ffffff" points="0,300 70,300 90,340 70,380 0,400"/>
<polygon fill="#d0d0d0" points="0,350 60,340 70,370 30,395 0,400"/>
<polygon fill="#0000f0" points="100,505 130,515 130,560 115,580 115,601 90,601 95,560 110,540"/>
<polygon fill="#e000e0" points="0,495 100,505 110,540 95,560 90,601 0,601"/>
<polygon fill="#ffffff" points="0,503 100,512 105,540 90,560 85,601 0,601"/>
<polygon fill="#ffffff" points="325,375 395,375 395,395 340,395"/>
<polygon fill="#ffffff" points="60,483 85,483 85,500 60,500"/>
<polygon fill="#ffffff" points="215,480 250,480 250,500 215,500"/>
</svg>
<svg x="366.5" y="0.0" width="366.5" height="300.4" viewBox="0 0 733 600.8" preserveAspectRatio="none">
<polygon fill="#e000e0" points="0,0 733,0 733,601 0,601"/>
<polygon fill="#8000e0" points="110,0 420,0 470,30 520,60 560,85 600,85 560,100 500,100 440,85 350,80 300,55 200,25"/>
<polygon fill="#0000f0" points="420,0 500,0 520,40 550,70 600,80 640,65 700,50 700,62 640,75 600,85 560,85 520,60 470,30"/>
<polygon fill="#ffffff" points="500,0 733,0 733,40 690,45 640,65 600,80 550,70 520,40"/>
<polygon fill="#d0d0d0" points="0,120 130,130 240,150 400,155 470,120 560,100 640,75 733,60 733,210 590,215 420,205 370,215 280,195 200,180 130,200 40,200 0,165"/>
<polygon fill="#8000e0" points="0,215 40,240 100,255 130,280 180,265 220,250 330,265 380,285 420,305 540,290 600,290 660,310 733,320 733,601 0,601"/>
<polygon fill="#0000f0" points="0,240 40,250 100,268 130,292 180,278 220,262 330,278 380,298 420,318 540,303 600,303 660,323 733,333 733,601 0,601"/>
<polygon fill="#0078f8" points="0,335 50,330 60,295 130,300 380,313 420,333 540,318 600,318 650,340 680,370 690,420 733,420 733,601 0,601"/>
<polygon fill="#00b8f8" points="0,380 40,380 60,350 90,320 110,305 380,318 420,340 540,323 600,323 645,345 675,375 685,425 733,425 733,601 0,601"/>
<polygon fill="#20e0ff" points="110,310 230,320 380,330 400,345 420,345 540,328 600,328 640,350 670,380 680,430 733,430 733,601 0,601 0,440 60,430 110,400 120,340"/>
<polygon fill="#00ffff" points="0,470 60,460 230,445 300,420 350,390 400,365 500,370 560,390 600,420 620,460 560,480 580,520 640,560 709,570 733,570 733,601 0,601"/>
<polygon fill="#0000f0" points="680,370 709,340 733,340 733,420 690,420"/>
</svg>
<svg x="0.0" y="210.3" width="366.5" height="300.4" viewBox="0 0 733 600.8" preserveAspectRatio="none">
<polygon fill="#20e0ff" points="0,0 733,0 733,601 0,601"/>
<polygon fill="#00b8f8" points="0,60 150,55 300,30 420,0 500,0 400,40 300,70 200,90 100,88 0,80"/>
<polygon fill="#0078f8" points="0,15 170,10 250,0 420,0 300,30 150,55 0,60"/>
<polygon fill="#0000f0" points="0,0 170,0 170,10 0,15"/>
<polygon fill="#00ffff" points="160,140 250,110 400,90 500,60 600,40 733,35 733,230 680,240 620,255 560,270 400,265 330,250 280,230 200,190"/>
<polygon fill="#00b8f8" points="130,100 175,100 165,160 185,205 250,235 330,262 400,272 560,275 560,290 390,290 330,285 260,275 210,245 150,240 110,210 110,160 130,140"/>
<polygon fill="#0078f8" points="115,100 145,100 135,160 150,215 220,240 270,268 330,278 400,283 540,285 530,295 390,290 330,285 260,275 210,245 150,240 110,210 110,160 130,140"/>
<polygon fill="#0000f0" points="100,95 130,100 130,140 110,160 110,210 150,235 210,240 260,270 330,280 390,285 390,290 320,290 240,285 200,255 130,250 95,235 80,200 90,140 105,120"/>
<polygon fill="#ffffff" points="0,85 100,95 105,120 90,140 80,200 95,235 130,250 200,250 240,280 320,285 390,290 530,295 560,280 620,270 680,245 733,235 733,601 0,601"/>
<polygon fill="#e000e0" points="0,78 60,83 100,93 100,98 0,88"/>
<polygon fill="#e000e0" points="88,140 60,150 50,200 70,230 100,250 130,260 130,250 95,235 80,200 90,140"/>
<polygon fill="#e000e0" points="210,255 240,280 250,285 225,275"/>
<polygon fill="#e000e0" points="390,288 530,290 525,300 400,300"/>
<polygon fill="#707070" points="0,220 30,225 60,250 80,265 60,295 0,295"/>
<polygon fill="#707070" points="330,325 360,315 455,310 455,320 370,330 350,345 325,340"/>
<polygon fill="#ffffff" points="60,62 85,62 85,82 60,82"/>
<polygon fill="#ffffff" points="215,60 250,60 250,82 215,82"/>
</svg>
<svg x="366.5" y="210.3" width="366.5" height="300.4" viewBox="0 0 733 600.8" preserveAspectRatio="none">
<polygon fill="#00ffff" points="0,0 733,0 733,601 0,601"/>
<polygon fill="#00b8f8" points="0,0 100,0 40,20 0,25"/>
<polygon fill="#20e0ff" points="0,205 100,195 300,195 420,185 550,185 620,170 600,130 560,90 550,40 600,0 733,0 733,601 0,601"/>
<polygon fill="#0078f8" points="650,0 709,0 709,40 680,30"/>
<polygon fill="#ffffff" points="0,240 40,235 70,215 390,215 400,205 520,205 540,215 700,210 709,200 733,200 733,601 0,601"/>
</svg>
</svg>
<rect x="571" y="340" width="3" height="260" fill="#fff"/><rect x="84" y="340" width="3" height="260" fill="#fff"/>
<path d="M0 0H733V945H0Z M85.2 345.8V590.0H572.6V345.8Z" fill="#fff" fill-rule="evenodd"/>
<rect x="85.2" y="345.8" width="487.40000000000003" height="244.2" fill="none" stroke="#000" stroke-width="1.35"/>
<path d="M85.20 345.8v-13 M85.20 590.0v13 M125.82 345.8v-13 M125.82 590.0v13 M166.43 345.8v-13 M166.43 590.0v13 M207.05 345.8v-13 M207.05 590.0v13 M247.67 345.8v-13 M247.67 590.0v13 M288.28 345.8v-13 M288.28 590.0v13 M328.90 345.8v-13 M328.90 590.0v13 M369.52 345.8v-13 M369.52 590.0v13 M410.13 345.8v-13 M410.13 590.0v13 M450.75 345.8v-13 M450.75 590.0v13 M491.37 345.8v-13 M491.37 590.0v13 M531.98 345.8v-13 M531.98 590.0v13 M572.60 345.8v-13 M572.60 590.0v13 M85.2 345.80h-13 M572.6 345.80h13 M85.2 386.50h-13 M572.6 386.50h13 M85.2 427.20h-13 M572.6 427.20h13 M85.2 467.90h-13 M572.6 467.90h13 M85.2 508.60h-13 M572.6 508.60h13 M85.2 549.30h-13 M572.6 549.30h13 M85.2 590.00h-13 M572.6 590.00h13" stroke="#000" stroke-width="1.5" fill="none"/>
<path d="M98.74 345.8v-6.3 M98.74 590.0v6.3 M112.28 345.8v-6.3 M112.28 590.0v6.3 M139.36 345.8v-6.3 M139.36 590.0v6.3 M152.89 345.8v-6.3 M152.89 590.0v6.3 M179.97 345.8v-6.3 M179.97 590.0v6.3 M193.51 345.8v-6.3 M193.51 590.0v6.3 M220.59 345.8v-6.3 M220.59 590.0v6.3 M234.13 345.8v-6.3 M234.13 590.0v6.3 M261.21 345.8v-6.3 M261.21 590.0v6.3 M274.74 345.8v-6.3 M274.74 590.0v6.3 M301.82 345.8v-6.3 M301.82 590.0v6.3 M315.36 345.8v-6.3 M315.36 590.0v6.3 M342.44 345.8v-6.3 M342.44 590.0v6.3 M355.98 345.8v-6.3 M355.98 590.0v6.3 M383.06 345.8v-6.3 M383.06 590.0v6.3 M396.59 345.8v-6.3 M396.59 590.0v6.3 M423.67 345.8v-6.3 M423.67 590.0v6.3 M437.21 345.8v-6.3 M437.21 590.0v6.3 M464.29 345.8v-6.3 M464.29 590.0v6.3 M477.83 345.8v-6.3 M477.83 590.0v6.3 M504.91 345.8v-6.3 M504.91 590.0v6.3 M518.44 345.8v-6.3 M518.44 590.0v6.3 M545.52 345.8v-6.3 M545.52 590.0v6.3 M559.06 345.8v-6.3 M559.06 590.0v6.3 M85.2 359.37h-6.3 M572.6 359.37h6.3 M85.2 372.93h-6.3 M572.6 372.93h6.3 M85.2 400.07h-6.3 M572.6 400.07h6.3 M85.2 413.63h-6.3 M572.6 413.63h6.3 M85.2 440.77h-6.3 M572.6 440.77h6.3 M85.2 454.33h-6.3 M572.6 454.33h6.3 M85.2 481.47h-6.3 M572.6 481.47h6.3 M85.2 495.03h-6.3 M572.6 495.03h6.3 M85.2 522.17h-6.3 M572.6 522.17h6.3 M85.2 535.73h-6.3 M572.6 535.73h6.3 M85.2 562.87h-6.3 M572.6 562.87h6.3 M85.2 576.43h-6.3 M572.6 576.43h6.3" stroke="#000" stroke-width="0.6" fill="none"/>
<g font-size="10.5px">
<text transform="translate(66.3 349.6) scale(1.06 1)" text-anchor="end">90N</text>
<text transform="translate(66.3 390.3) scale(1.06 1)" text-anchor="end">60N</text>
<text transform="translate(66.3 431.0) scale(1.06 1)" text-anchor="end">30N</text>
<text transform="translate(66.3 471.7) scale(1.06 1)" text-anchor="end">0</text>
<text transform="translate(66.3 512.4) scale(1.06 1)" text-anchor="end">30S</text>
<text transform="translate(66.3 553.1) scale(1.06 1)" text-anchor="end">60S</text>
<text transform="translate(66.3 593.8) scale(1.06 1)" text-anchor="end">90S</text>
<text transform="translate(85.2 618.0) scale(1.06 1)" text-anchor="middle">30E</text>
<text transform="translate(125.8 618.0) scale(1.06 1)" text-anchor="middle">60E</text>
<text transform="translate(166.4 618.0) scale(1.06 1)" text-anchor="middle">90E</text>
<text transform="translate(207.1 618.0) scale(1.06 1)" text-anchor="middle">120E</text>
<text transform="translate(247.7 618.0) scale(1.06 1)" text-anchor="middle">150E</text>
<text transform="translate(288.3 618.0) scale(1.06 1)" text-anchor="middle">180</text>
<text transform="translate(328.9 618.0) scale(1.06 1)" text-anchor="middle">150W</text>
<text transform="translate(369.5 618.0) scale(1.06 1)" text-anchor="middle">120W</text>
<text transform="translate(410.1 618.0) scale(1.06 1)" text-anchor="middle">90W</text>
<text transform="translate(450.8 618.0) scale(1.06 1)" text-anchor="middle">60W</text>
<text transform="translate(491.4 618.0) scale(1.06 1)" text-anchor="middle">30W</text>
<text transform="translate(532.0 618.0) scale(1.06 1)" text-anchor="middle">0</text>
<text transform="translate(572.6 618.0) scale(1.06 1)" text-anchor="middle">30E</text>
</g>
<text x="84.0" y="330.7" font-size="14.6px" textLength="346.6" lengthAdjust="spacingAndGlyphs">IAGE at z= 482.7m, b40.20th.track1.1deg.005 [1981-2005]</text>
<text x="503.5" y="318.6" font-size="14.4px" textLength="81.8" lengthAdjust="spacingAndGlyphs">mean = 230.2</text>
<text x="503.5" y="332.8" font-size="14.4px" textLength="59.2" lengthAdjust="spacingAndGlyphs">rms = 270</text>
<rect x="264.8" y="622" width="128.2" height="15" fill="#fff" stroke="#222" stroke-width="0.8"/>
<text x="267.2" y="632.7" font-size="10.5px" textLength="123.2" lengthAdjust="spacingAndGlyphs">-13.2 to 619.5 by 50 years</text>
<rect x="605.8" y="356.00" width="29.1" height="11.21" fill="#c00000"/>
<rect x="605.8" y="367.17" width="29.1" height="11.21" fill="#e10000"/>
<rect x="605.8" y="378.33" width="29.1" height="11.21" fill="#ff1e00"/>
<rect x="605.8" y="389.50" width="29.1" height="11.21" fill="#f58c0a"/>
<rect x="605.8" y="400.66" width="29.1" height="11.21" fill="#fa9a28"/>
<rect x="605.8" y="411.82" width="29.1" height="11.21" fill="#fdb440"/>
<rect x="605.8" y="422.99" width="29.1" height="11.21" fill="#ffdc32"/>
<rect x="605.8" y="434.15" width="29.1" height="11.21" fill="#ffff00"/>
<rect x="605.8" y="445.32" width="29.1" height="11.21" fill="#50f000"/>
<rect x="605.8" y="456.48" width="29.1" height="11.21" fill="#00f050"/>
<rect x="605.8" y="467.65" width="29.1" height="11.21" fill="#00f0c8"/>
<rect x="605.8" y="478.81" width="29.1" height="11.21" fill="#00ffff"/>
<rect x="605.8" y="489.98" width="29.1" height="11.21" fill="#20e0ff"/>
<rect x="605.8" y="501.14" width="29.1" height="11.21" fill="#00b8f8"/>
<rect x="605.8" y="512.31" width="29.1" height="11.21" fill="#0078f8"/>
<rect x="605.8" y="523.47" width="29.1" height="11.21" fill="#0000f0"/>
<rect x="605.8" y="534.64" width="29.1" height="11.21" fill="#8000e0"/>
<rect x="605.8" y="545.80" width="29.1" height="11.21" fill="#e000e0"/>
<rect x="605.8" y="556.97" width="29.1" height="11.21" fill="#d0d0d0"/>
<rect x="605.8" y="568.13" width="29.1" height="11.21" fill="#707070"/>
<path d="M605.8 367.17H634.9 M605.8 378.33H634.9 M605.8 389.50H634.9 M605.8 400.66H634.9 M605.8 411.82H634.9 M605.8 422.99H634.9 M605.8 434.15H634.9 M605.8 445.32H634.9 M605.8 456.48H634.9 M605.8 467.65H634.9 M605.8 478.81H634.9 M605.8 489.98H634.9 M605.8 501.14H634.9 M605.8 512.31H634.9 M605.8 523.47H634.9 M605.8 534.64H634.9 M605.8 545.80H634.9 M605.8 556.97H634.9 M605.8 568.13H634.9" stroke="#000" stroke-width="0.8" fill="none"/>
<rect x="605.8" y="356.0" width="29.1" height="223.3" fill="none" stroke="#000" stroke-width="0.5"/>
<g font-size="10.5px" text-anchor="middle">
<text transform="translate(655.0 360.3) scale(1.0 1)">1000</text>
<text transform="translate(655.0 393.8) scale(1.0 1)">850</text>
<text transform="translate(655.0 416.1) scale(1.0 1)">750</text>
<text transform="translate(655.0 438.5) scale(1.0 1)">650</text>
<text transform="translate(655.0 460.8) scale(1.0 1)">550</text>
<text transform="translate(655.0 483.1) scale(1.0 1)">450</text>
<text transform="translate(655.0 505.4) scale(1.0 1)">350</text>
<text transform="translate(655.0 527.8) scale(1.0 1)">250</text>
<text transform="translate(655.0 550.1) scale(1.0 1)">150</text>
<text transform="translate(655.0 583.6) scale(1.0 1)">0</text>
</g>
</svg>
</body></html>
